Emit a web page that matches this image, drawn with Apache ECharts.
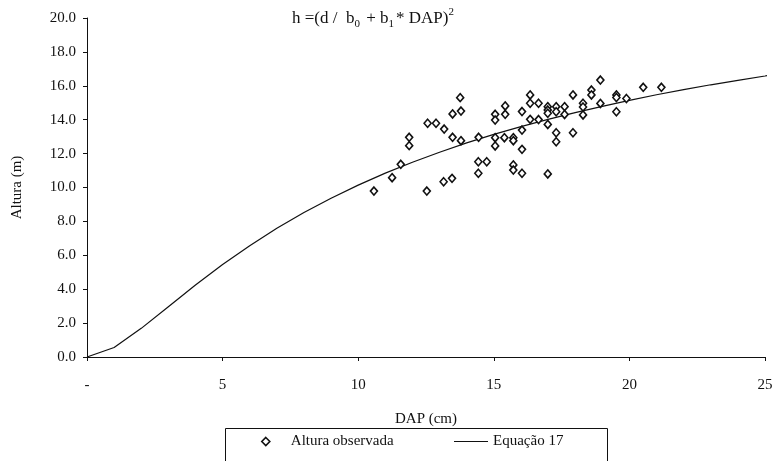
<!DOCTYPE html>
<html>
<head>
<meta charset="utf-8">
<script src="https://cdn.jsdelivr.net/npm/echarts@6/dist/echarts.min.js"></script>
<style>
  html, body { margin: 0; padding: 0; background: #fff; }
  #chart { width: 776px; height: 461px; }
</style>
</head>
<body>
<div id="chart"></div>
<script>
// Observed tree heights: DAP (cm) and height (m)
const dapObs = [
  13.76, 13.48, 13.79, 12.56, 12.87, 13.17, 11.88, 11.88, 13.48, 13.79,
  14.44, 15.05, 15.05, 15.39, 15.72, 15.72, 16.04, 16.04, 15.05, 15.05,
  15.42, 15.42, 16.04, 16.34, 16.34, 16.65, 16.34, 16.65, 16.99, 16.99,
  16.99, 16.99, 11.57, 11.25, 10.58, 12.53, 13.15, 13.46, 14.43, 14.74,
  14.43, 15.72, 15.72, 16.04, 16.99, 17.30, 17.30, 17.61, 17.61, 17.92,
  18.29, 18.29, 18.29, 18.60, 18.60, 18.93, 18.93, 19.52, 19.52, 19.52,
  19.89, 20.51, 21.18, 17.30, 17.30, 17.92
];
const alturaObs = [
  15.30, 14.34, 14.51, 13.79, 13.79, 13.45, 12.96, 12.47, 12.96, 12.76,
  12.96, 12.94, 12.45, 12.94, 12.94, 12.76, 13.39, 12.25, 14.32, 13.98,
  14.81, 14.32, 14.48, 15.46, 14.97, 14.97, 14.02, 14.01, 14.77, 14.57,
  14.38, 13.72, 11.37, 10.58, 9.79, 9.79, 10.34, 10.54, 11.52, 11.52,
  10.84, 11.33, 11.03, 10.84, 10.80, 14.77, 14.47, 14.77, 14.31, 15.46,
  14.97, 14.75, 14.28, 15.75, 15.46, 16.34, 14.96, 15.46, 15.31, 14.47,
  15.25, 15.91, 15.91, 13.23, 12.70, 13.23
];

// Fitted curve (Equação 17) sampled along DAP
const dapCurve = [0, 1, 2, 3, 4, 5, 6, 7, 8, 9, 10, 11, 12, 13, 14, 15, 16, 17, 18, 19, 20, 21, 22, 23, 24, 25, 25.3];
const alturaCurve = [
  0.00, 0.56, 1.69, 2.97, 4.25, 5.46, 6.57, 7.60, 8.52, 9.37,
  10.14, 10.85, 11.49, 12.08, 12.63, 13.13, 13.59, 14.02, 14.42, 14.79,
  15.14, 15.47, 15.77, 16.06, 16.32, 16.58, 16.66
];

const xTicks = [0, 5, 10, 15, 20, 25];
const yTicks = [0, 2, 4, 6, 8, 10, 12, 14, 16, 18, 20];

const FONT = '"Liberation Serif", "Times New Roman", serif';
const INK = '#111';

const chart = echarts.init(document.getElementById('chart'), null, { renderer: 'canvas' });

chart.setOption({
  backgroundColor: '#fff',
  animation: false,
  grid: { left: 87, right: 11, top: 18, bottom: 104, containLabel: false },
  xAxis: {
    type: 'value',
    min: xTicks[0],
    max: xTicks[xTicks.length - 1],
    interval: 5,
    name: 'DAP (cm)',
    nameLocation: 'middle',
    nameGap: 55,
    nameTextStyle: { fontFamily: FONT, fontSize: 15, color: INK },
    axisLine: { show: true, lineStyle: { color: INK, width: 1 } },
    axisTick: { show: true, inside: false, length: 4, lineStyle: { color: INK } },
    axisLabel: {
      fontFamily: FONT, fontSize: 15, color: INK, margin: 21,
      formatter: v => (v === 0 ? '-' : String(v))
    },
    splitLine: { show: false }
  },
  yAxis: {
    type: 'value',
    min: yTicks[0],
    max: yTicks[yTicks.length - 1],
    interval: 2,
    name: 'Altura (m)',
    nameLocation: 'middle',
    nameGap: 62,
    nameRotate: 90,
    nameTextStyle: { fontFamily: FONT, fontSize: 15, color: INK },
    axisLine: { show: true, lineStyle: { color: INK, width: 1 } },
    axisTick: { show: true, inside: false, length: 4, lineStyle: { color: INK } },
    axisLabel: {
      fontFamily: FONT, fontSize: 15, color: INK, margin: 11,
      formatter: v => v.toFixed(1)
    },
    splitLine: { show: false }
  },
  legend: [
    {
      left: 256,
      top: 429,
      itemWidth: 8,
      itemHeight: 8,
      itemGap: 0,
      textStyle: { fontFamily: FONT, fontSize: 15, color: INK, padding: [0, 0, 0, 16] },
      data: [
        { name: 'Altura observada', icon: 'diamond', itemStyle: { color: '#fff', borderColor: INK, borderWidth: 1.6 } }
      ]
    },
    {
      left: 449,
      top: 429,
      itemWidth: 34,
      itemHeight: 8,
      textStyle: { fontFamily: FONT, fontSize: 15, color: INK, padding: [0, 0, 0, 0] },
      data: [
        { name: 'Equação 17', icon: 'path://M0,4 L34,4 L34,5 L0,5 Z', itemStyle: { color: INK } }
      ]
    }
  ],
  graphic: [
    {
      type: 'rect',
      left: 223, top: 426,
      shape: { width: 382, height: 50 },
      style: { fill: 'none', stroke: INK, lineWidth: 1 },
      silent: true
    },
    {
      type: 'text',
      left: 292, top: 7,
      style: {
        text: '{t|h =(d /  b}{s|0}{t| + b}{s|1}{t|* DAP)}{p|2}',
        rich: {
          t: { fontFamily: FONT, fontSize: 17, fill: INK, verticalAlign: 'bottom', lineHeight: 20 },
          s: { fontFamily: FONT, fontSize: 11, fill: INK, verticalAlign: 'bottom', lineHeight: 15, padding: [0, 2, -3, 0] },
          p: { fontFamily: FONT, fontSize: 11, fill: INK, verticalAlign: 'top', lineHeight: 20 }
        }
      }
    }
  ],
  series: [
    {
      name: 'Altura observada',
      type: 'scatter',
      symbol: 'diamond',
      symbolSize: [7, 8],
      itemStyle: { color: '#fff', borderColor: INK, borderWidth: 1.6, opacity: 1 },
      data: dapObs.map((d, i) => [d, alturaObs[i]]),
      z: 3
    },
    {
      name: 'Equação 17',
      type: 'line',
      showSymbol: false,
      smooth: false,
      clip: false,
      lineStyle: { color: INK, width: 1.2 },
      data: dapCurve.map((d, i) => [d, alturaCurve[i]]),
      z: 2
    }
  ]
});
</script>
</body>
</html>
